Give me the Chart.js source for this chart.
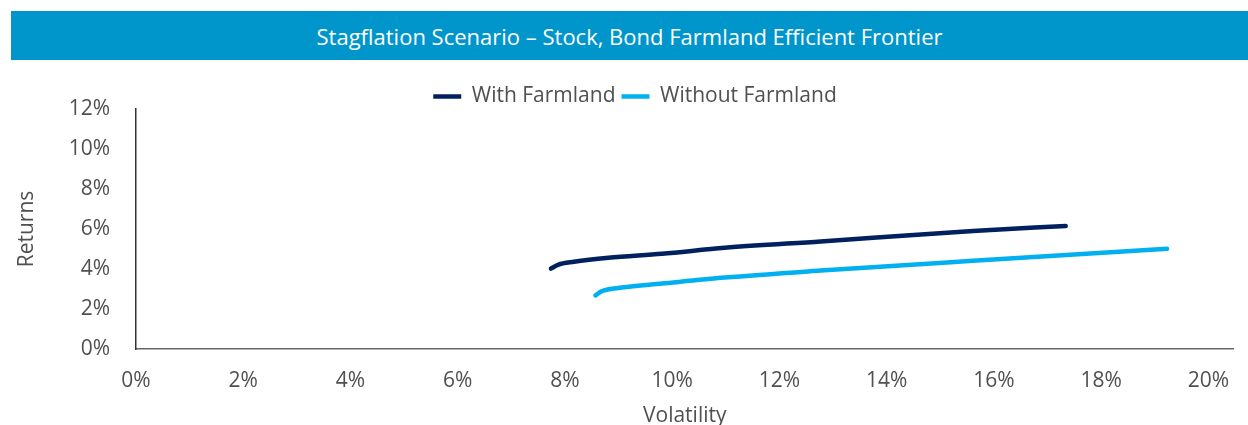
<!DOCTYPE html>
<html>
<head>
<meta charset="utf-8">
<script src="https://cdn.jsdelivr.net/npm/chart.js@4"></script>
<style>
  html, body { margin: 0; padding: 0; background: #fff; }
  #wrap { position: relative; width: 1248px; height: 425px; overflow: hidden; }
  #titulo {
    position: absolute; left: 11px; top: 11px; width: 1237px; height: 49px;
    background: #0096CC; color: #fff; font: 22px "Open Sans", sans-serif;
    display: flex; align-items: center; justify-content: center;
  }
  #grafico { position: absolute; left: 0; top: 0; }
</style>
</head>
<body>
<div id="wrap">
  <canvas id="grafico" width="1248" height="425"></canvas>
  <div id="titulo">Stagflation Scenario – Stock, Bond Farmland Efficient Frontier</div>
</div>
<script>
// Dados (volatilidade %, retorno %)
const volComFarmland = [7.74, 7.87, 8.17, 8.81, 9.81, 10.98, 12.77, 15.61, 17.34]
const retComFarmland = [4.02, 4.21, 4.36, 4.56, 4.76, 5.06, 5.38, 5.90, 6.15]
const volSemFarmland = [8.57, 8.68, 9.06, 9.81, 10.98, 12.77, 15.61, 19.23]
const retSemFarmland = [2.68, 2.88, 3.07, 3.27, 3.57, 3.92, 4.41, 5.01]

const serieNomes = ["With Farmland", "Without Farmland"]
const serieCores = ["#002060", "#00B0F0"]

const xTicks = [0, 2, 4, 6, 8, 10, 12, 14, 16, 18, 20]
const yTicks = [0, 2, 4, 6, 8, 10, 12]

const fonte = "'Open Sans', sans-serif"
const corTexto = "#505050"

function pontos(xs, ys) {
  return xs.map((x, i) => ({ x, y: ys[i] }))
}

// Legenda mais baixa sem empurrar a área do gráfico
const ajusteLegenda = {
  id: "ajusteLegenda",
  beforeInit(chart) {
    const leg = chart.legend
    if (!leg) return
    const fitOriginal = leg.fit
    leg.fit = function () {
      fitOriginal.call(this)
      this.height -= 8
    }
  }
}

const ctx = document.getElementById("grafico").getContext("2d")
new Chart(ctx, {
  type: "scatter",
  data: {
    datasets: [
      { data: pontos(volComFarmland, retComFarmland) },
      { data: pontos(volSemFarmland, retSemFarmland) }
    ].map((d, i) => ({
      ...d,
      label: serieNomes[i],
      showLine: true,
      borderColor: serieCores[i],
      backgroundColor: serieCores[i],
      borderWidth: 4.5,
      borderCapStyle: "round",
      pointRadius: 0,
      cubicInterpolationMode: "monotone"
    }))
  },
  plugins: [ajusteLegenda],
  options: {
    responsive: false,
    animation: false,
    layout: { padding: { top: 80, left: 22, right: 0, bottom: 0 } },
    plugins: {
      tooltip: { enabled: false },
      legend: {
        position: "top",
        labels: {
          usePointStyle: true,
          pointStyle: "line",
          pointStyleWidth: 28,
          boxHeight: 4,
          padding: 6,
          color: corTexto,
          font: { family: fonte, size: 21 }
        }
      }
    },
    scales: {
      x: {
        type: "linear",
        min: 0,
        max: 20.47,
        afterFit: s => { s.height = 76 },
        afterBuildTicks: s => { s.ticks = xTicks.map(v => ({ value: v })) },
        grid: { display: false, drawTicks: false },
        border: { color: "#666", width: 1.5 },
        ticks: {
          padding: 19,
          color: corTexto,
          font: { family: fonte, size: 21 },
          callback: v => v + "%"
        },
        title: {
          display: true,
          text: "Volatility",
          color: corTexto,
          padding: { top: 0, bottom: -4 },
          font: { family: fonte, size: 21 }
        }
      },
      y: {
        type: "linear",
        min: 0,
        max: 12,
        afterFit: s => { s.width = 114 },
        afterBuildTicks: s => { s.ticks = yTicks.map(v => ({ value: v })) },
        grid: { display: false, drawTicks: false },
        border: { color: "#333", width: 1.5 },
        ticks: {
          padding: 26,
          color: corTexto,
          font: { family: fonte, size: 21 },
          callback: v => v + "%"
        },
        title: {
          display: true,
          text: "Returns",
          color: corTexto,
          padding: { top: -8, bottom: 0 },
          font: { family: fonte, size: 21 }
        }
      }
    }
  }
})
</script>
</body>
</html>
